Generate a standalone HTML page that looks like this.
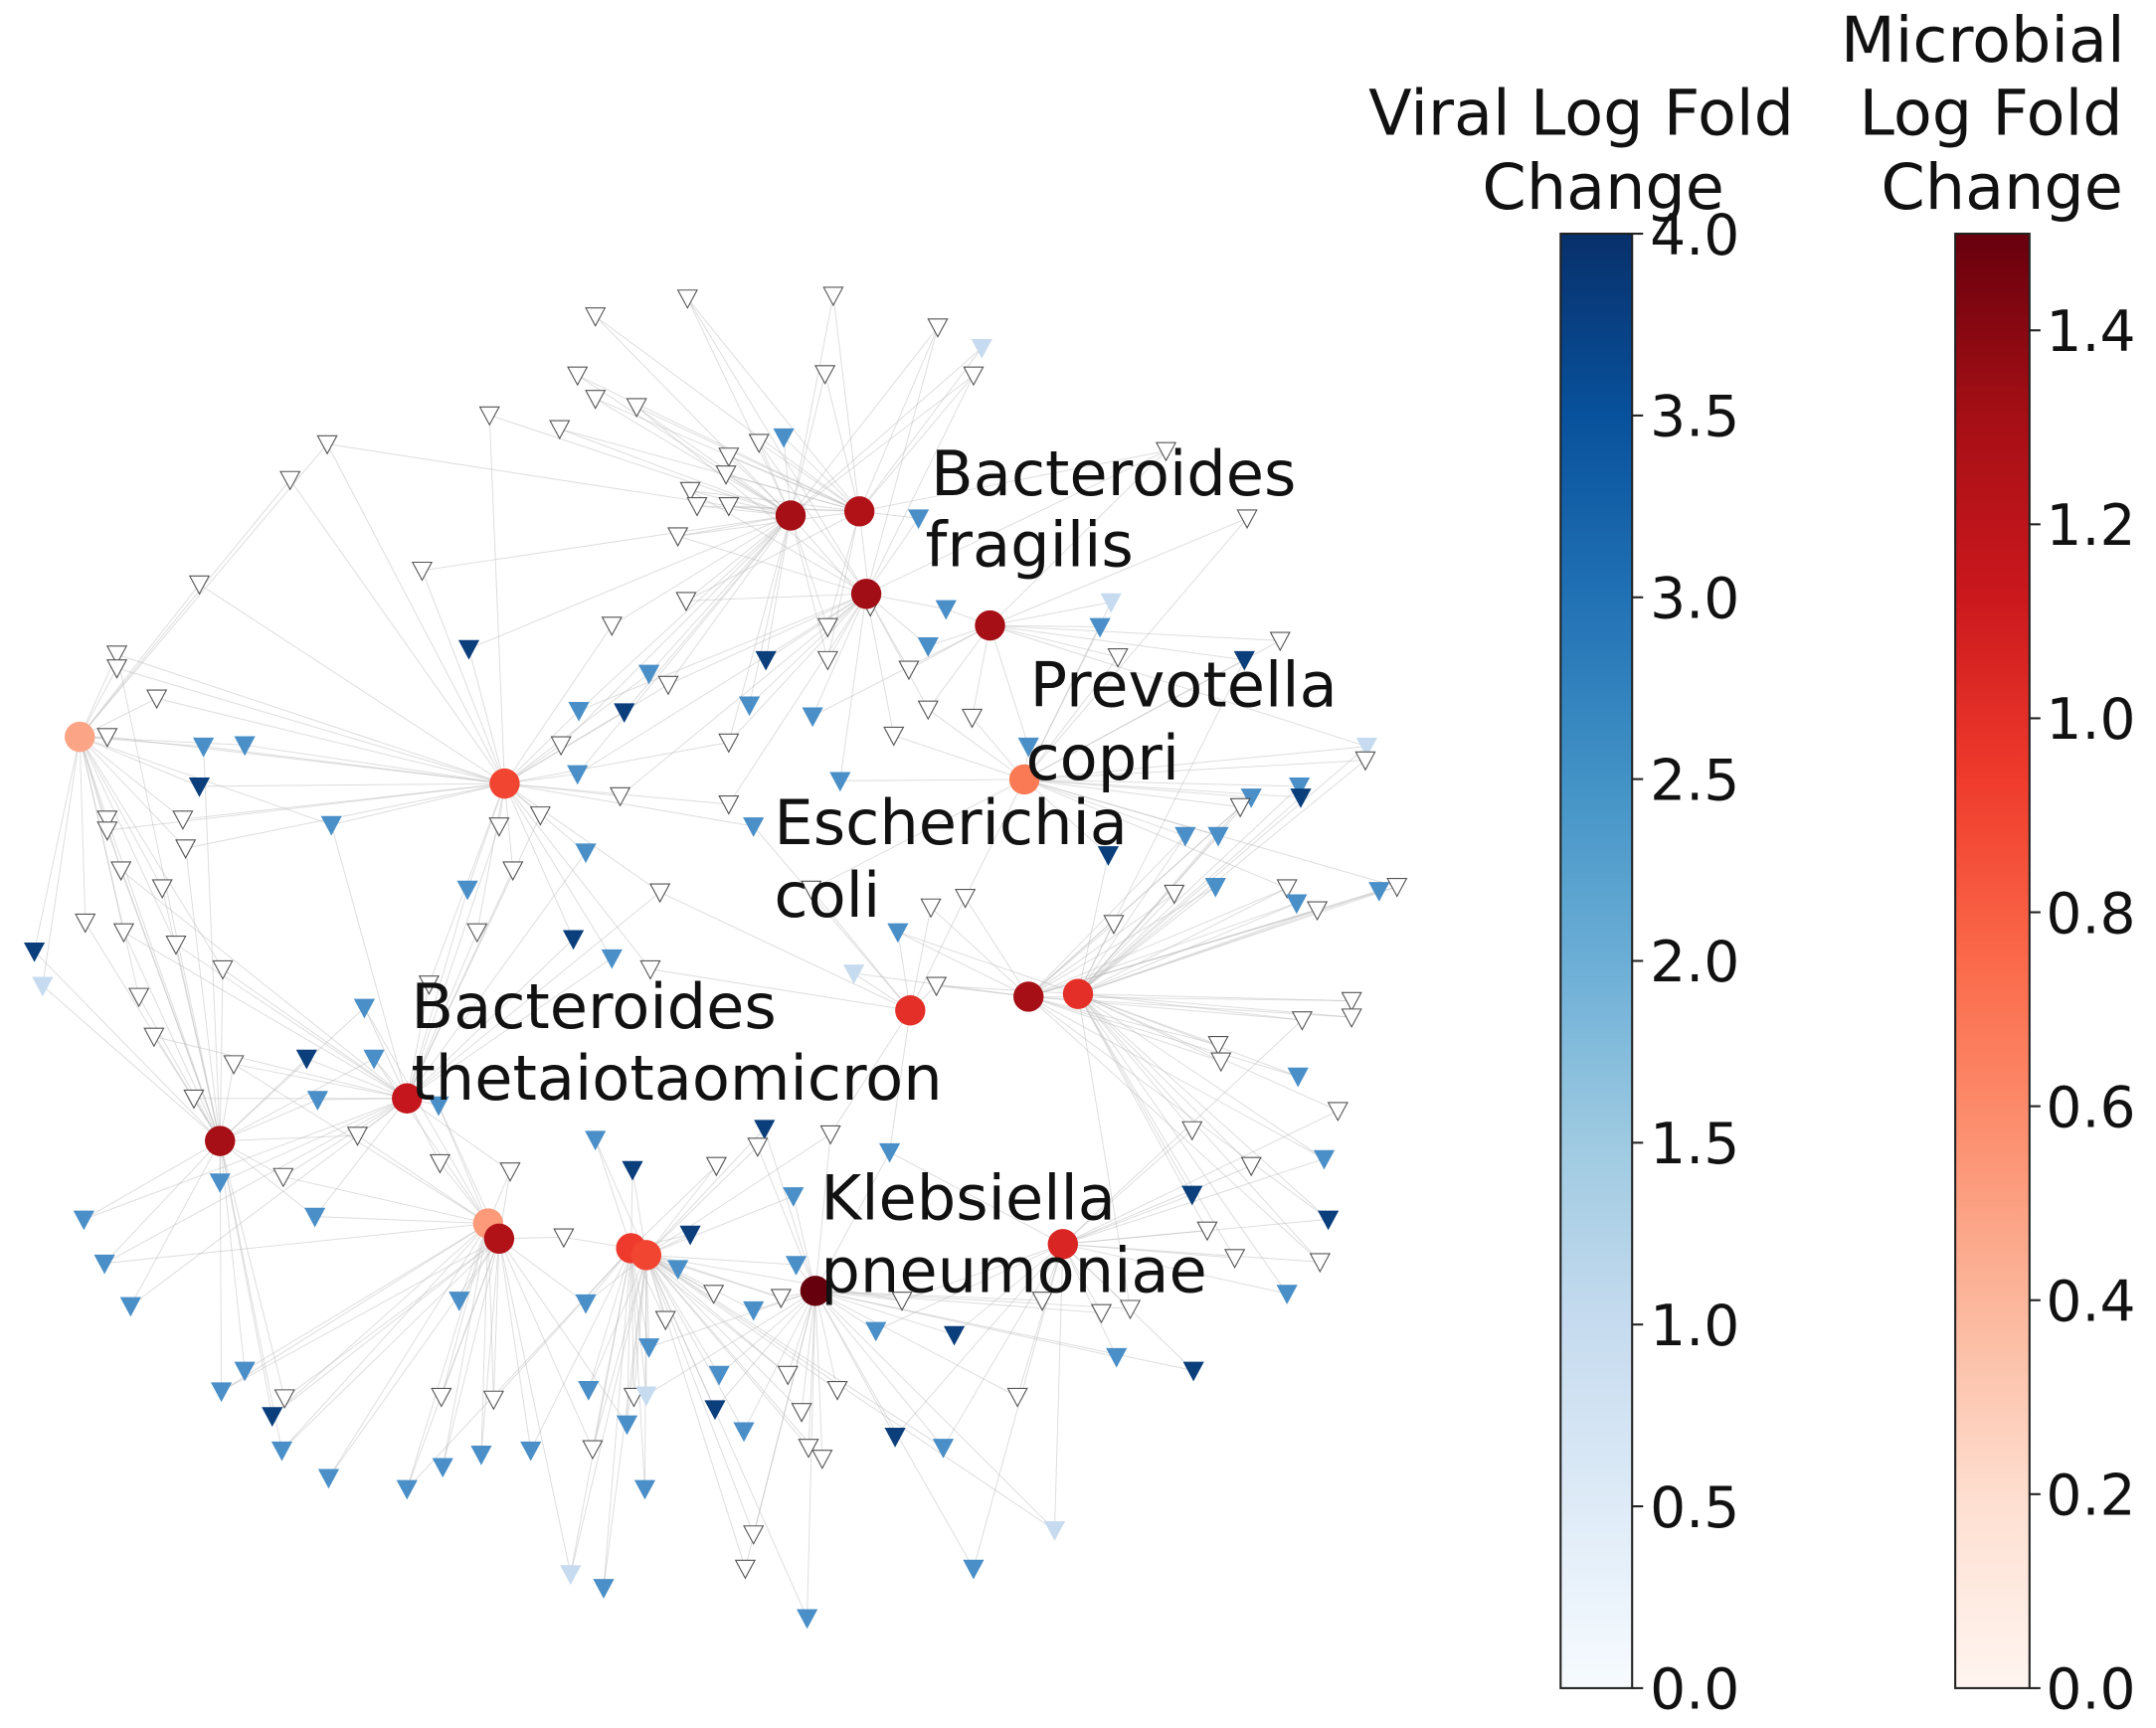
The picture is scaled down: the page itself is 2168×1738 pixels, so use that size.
<!DOCTYPE html>
<html><head><meta charset="utf-8"><style>
html,body{margin:0;padding:0;background:#fff;}
svg{display:block;}
text{font-family:"DejaVu Sans","Liberation Sans",sans-serif;fill:#111;}
</style></head><body>
<svg id="s" width="2168" height="1738" viewBox="0 0 1568 1257" preserveAspectRatio="none" xmlns="http://www.w3.org/2000/svg">
<defs>
<linearGradient id="gb" x1="0" y1="1" x2="0" y2="0">
<stop offset="0" stop-color="#f7fbff"/><stop offset="0.125" stop-color="#deebf7"/><stop offset="0.25" stop-color="#c6dbef"/><stop offset="0.375" stop-color="#9ecae1"/><stop offset="0.5" stop-color="#6baed6"/><stop offset="0.625" stop-color="#4292c6"/><stop offset="0.75" stop-color="#2171b5"/><stop offset="0.875" stop-color="#08519c"/><stop offset="1" stop-color="#08306b"/>
</linearGradient>
<linearGradient id="gr" x1="0" y1="1" x2="0" y2="0">
<stop offset="0" stop-color="#fff5f0"/><stop offset="0.125" stop-color="#fee0d2"/><stop offset="0.25" stop-color="#fcbba1"/><stop offset="0.375" stop-color="#fc9272"/><stop offset="0.5" stop-color="#fb6a4a"/><stop offset="0.625" stop-color="#ef3b2c"/><stop offset="0.75" stop-color="#cb181d"/><stop offset="0.875" stop-color="#a50f15"/><stop offset="1" stop-color="#67000d"/>
</linearGradient>
</defs>
<g id="edges"></g>
<g id="tris"></g>
<g id="hubs"></g>
<g font-size="45">
<text x="677" y="360">Bacteroides</text>
<text x="673" y="412">fragilis</text>
<text x="749" y="514">Prevotella</text>
<text x="746" y="567">copri</text>
<text x="563" y="614">Escherichia</text>
<text x="563" y="667">coli</text>
<text x="299" y="748">Bacteroides</text>
<text x="299" y="800">thetaiotaomicron</text>
<text x="597" y="887">Klebsiella</text>
<text x="597" y="940">pneumoniae</text>
</g>
<rect x="1135" y="170" width="52" height="1058" fill="url(#gb)" stroke="#222" stroke-width="1.5"/>
<rect x="1422" y="170" width="54" height="1058" fill="url(#gr)" stroke="#222" stroke-width="1.5"/>
<g font-size="46" text-anchor="middle">
<text x="1150" y="98">Viral Log Fold</text>
<text x="1166" y="152">Change</text>
<text x="1442" y="45">Microbial</text>
<text x="1448" y="98">Log Fold</text>
<text x="1456" y="152">Change</text>
</g>
<g id="ticks" font-size="41"></g>
</svg>
<script>
var NS="http://www.w3.org/2000/svg";
function el(t,a,p){var e=document.createElementNS(NS,t);for(var k in a)e.setAttribute(k,a[k]);document.getElementById(p).appendChild(e);return e;}
for(var i=0;i<=8;i++){var y=1228-i*132.25;el("line",{x1:1187,y1:y,x2:1195,y2:y,stroke:"#222","stroke-width":1.5},"ticks");var t=el("text",{x:1200,y:y+15},"ticks");t.textContent=(i*0.5).toFixed(1);}
for(var i=0;i<=7;i++){var y=1228-i*141.1;el("line",{x1:1476,y1:y,x2:1484,y2:y,stroke:"#222","stroke-width":1.5},"ticks");var t=el("text",{x:1488,y:y+15},"ticks");t.textContent=(i*0.2).toFixed(1);}
var hubs=[[58,536,"#fca486"],[367,570,"#f14431"],[575,375,"#a50f15"],[625,372,"#b11218"],[630,432,"#a10e15"],[720,455,"#a50f15"],[745,567,"#fb7a56"],[662,735,"#e32f27"],[748,725,"#a50f15"],[784,723,"#e32f27"],[296,799,"#c4161c"],[160,830,"#a50f15"],[355,890,"#fc9a7a"],[363,901,"#b11218"],[459,908,"#ee3a2c"],[470,913,"#f14431"],[593,939,"#67000d"],[773,905,"#d92523"]];
var C={w:"#ffffff",l:"#c6dbef",b:"#4a8fc7",d:"#0b3f7c"};
var T="500,217,w;606,215,w;433,230,w;682,238,w;714,253,l;600,272,w;708,273,w;420,273,w;433,290,w;463,296,w;356,302,w;407,312,w;238,323,w;211,349,w;570,318,b;552,322,w;530,332,w;528,345,w;502,357,w;507,368,w;530,368,w;848,328,w;668,377,b;907,377,w;493,390,w;307,415,w;145,425,w;499,437,w;688,443,b;808,438,l;633,441,w;800,456,b;445,455,w;602,456,w;675,470,b;341,472,d;905,480,d;931,466,w;813,478,w;85,476,w;85,486,w;557,480,d;602,480,w;661,487,w;472,490,b;486,498,w;114,508,w;545,513,b;421,517,b;454,518,d;591,521,b;675,516,w;707,522,w;78,536,w;148,543,b;178,542,b;408,542,w;530,540,w;650,535,w;748,543,b;994,543,l;993,553,w;145,572,d;420,563,b;611,568,b;451,579,w;910,580,b;945,572,b;946,580,d;902,587,w;530,585,w;393,593,w;241,600,b;133,596,w;78,596,w;78,604,w;363,601,w;548,601,b;862,608,b;886,608,b;426,620,b;135,617,w;806,622,d;373,633,w;88,633,w;118,646,w;340,647,b;480,649,w;590,647,w;677,660,w;702,653,w;854,650,w;884,645,b;936,646,w;943,657,b;1003,648,b;1016,645,w;958,662,w;62,671,w;90,678,w;347,678,w;417,683,d;653,678,b;810,672,w;25,692,d;128,687,w;445,697,b;473,705,w;162,705,w;31,717,l;101,725,w;265,733,b;312,716,w;621,708,l;681,717,w;983,728,w;983,740,w;947,742,w;112,754,w;223,770,d;272,770,b;886,760,w;888,772,w;170,774,w;141,799,w;231,800,b;319,804,b;944,783,b;973,808,w;260,826,w;433,829,b;556,821,d;604,825,w;867,822,w;320,846,w;371,852,w;460,851,d;551,834,w;647,838,b;521,848,w;160,860,b;206,856,w;577,870,b;910,848,w;963,843,b;867,869,d;61,887,b;229,885,b;410,900,w;502,898,d;966,887,d;878,895,w;898,915,w;76,919,b;493,923,b;579,920,b;960,918,w;95,950,b;334,946,b;426,948,b;519,941,w;548,953,b;568,944,w;936,941,b;484,960,w;656,946,w;758,946,w;801,955,w;822,952,w;637,968,b;694,971,d;472,980,b;812,987,b;178,997,b;573,1000,w;523,1000,b;868,997,d;161,1012,b;207,1017,w;321,1016,w;359,1018,w;428,1011,b;461,1016,w;470,1015,l;609,1011,w;740,1016,w;198,1030,d;520,1025,d;583,1027,w;456,1036,b;541,1041,b;651,1045,d;205,1055,b;350,1058,b;386,1055,b;431,1054,w;588,1053,w;598,1061,w;686,1053,b;322,1067,b;239,1075,b;296,1083,b;469,1083,b;548,1116,w;767,1113,l;708,1141,b;542,1141,w;415,1145,l;439,1155,b;587,1177,b".split(";");
T.forEach(function(s,idx){var p=s.split(",");var x=+p[0],y=+p[1];
 var d=hubs.map(function(h,i){return [Math.hypot(h[0]-x,h[1]-y),i];}).sort(function(a,b){return a[0]-b[0];});
 var n=2+(idx%3==0?1:0);
 for(var k=0;k<n;k++){var h=hubs[d[k][1]];el("line",{x1:x,y1:y,x2:h[0],y2:h[1],stroke:"#bbb","stroke-width":0.7,"stroke-opacity":0.5},"edges");}
 var c=C[p[2]];
 el("polygon",{points:(x-7)+","+(y-6)+" "+(x+7)+","+(y-6)+" "+x+","+(y+7),fill:c,stroke:p[2]=="w"?"#555":c,"stroke-width":0.8},"tris");
});
hubs.forEach(function(h){el("circle",{cx:h[0],cy:h[1],r:11,fill:h[2]},"hubs");});
</script>
</body></html>
